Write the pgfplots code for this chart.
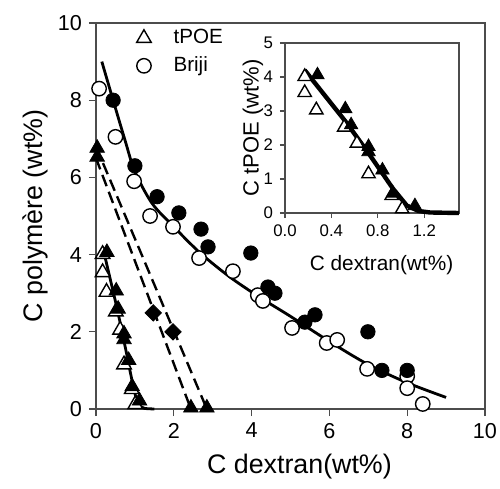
\documentclass[border=0pt]{standalone}
\usepackage{fontspec}
\setmainfont{Liberation Sans}
\usepackage{pgfplots}
\pgfplotsset{compat=1.18}

% tPOE data (shared by main plot and inset)
\pgfplotstableread{
x y
0.17 4.01
0.17 3.54
0.27 3.03
0.51 2.52
0.62 2.05
0.72 1.15
0.92 0.51
1.01 0.12
}\tpoeopen
\pgfplotstableread{
x y
0.28 4.06
0.52 3.06
0.57 2.59
0.72 1.95
0.72 1.80
0.84 1.26
0.93 0.58
1.12 0.21
}\tpoefilled
\pgfplotstableread{
x y
0.17 4.20
0.52 2.70
0.72 1.76
0.93 0.72
1.05 0.22
1.15 0.06
1.25 0.015
1.50 0.0
}\tpoecurve

\begin{document}
\begin{tikzpicture}
\useasboundingbox (-48pt,-40pt) rectangle (202pt,204.5pt);
\pgfplotsset{
  every axis/.append style={
    scale only axis, clip=false,
    axis line style={black!70, line width=0.6pt},
    tick style={black!70, line width=0.6pt},
    tick align=outside, xtick pos=bottom, ytick pos=left,
    /pgf/number format/assume math mode=true,
  },
}
\begin{axis}[
  at={(0pt,0pt)}, anchor=south west,
  width=194.5pt, height=193pt,
  xmin=0, xmax=10, ymin=0, ymax=10,
  xtick={0,2,...,10}, ytick={0,2,...,10},
  major tick length=3.5pt,
  tick label style={font=\fontsize{10.8}{12}\selectfont},
  label style={font=\fontsize{13.4}{15}\selectfont},
  xlabel={C dextran(wt\%)},
  ylabel={C polymère (wt\%)},
  xlabel style={at={(axis description cs:0.523,-0.150)}, anchor=center},
  ylabel style={at={(axis description cs:-0.157,0.5)}, anchor=center},
  legend style={draw=none, fill=none, at={(axis description cs:0.041,1.005)}, anchor=north west,
    font=\fontsize{10.3}{12}\selectfont, row sep=1pt},
  legend cell align=left,
  legend image code/.code={\path[draw=none, fill=none] (0cm,0cm) -- (0.9cm,0cm); \draw[#1] plot coordinates {(0.45cm,0cm)};},
]
% tie lines
\addplot[black, line width=1.2pt, dash pattern=on 6pt off 3pt, forget plot] coordinates {(0,6.5) (2.44,0)};
\addplot[black, line width=1.2pt, dash pattern=on 6pt off 3pt, forget plot] coordinates {(0,6.8) (2.85,0)};
% binodal curves
\addplot[black, line width=1.4pt, smooth, forget plot] table {\tpoecurve};
\addplot[black, line width=1.4pt, smooth, forget plot] coordinates {
(0.15,9.0) (0.44,8.0) (0.75,6.95) (1.0,6.15) (1.44,5.33) (2.0,4.72) (2.67,4.05)
(3.44,3.42) (4.2,2.9) (5.0,2.4) (6.0,1.75) (7.0,1.15) (8.0,0.68) (9.0,0.3)};
% tPOE markers
\addplot[only marks, mark=triangle*, mark size=4.2pt, mark options={fill=white, draw=black, line width=0.7pt}] table {\tpoeopen};
\addlegendentry{tPOE}
\addplot[only marks, mark=triangle*, mark size=4.2pt, mark options={fill=black, draw=black}, forget plot] table {\tpoefilled};
% Briji markers
\addplot[only marks, mark=*, mark size=3.6pt, mark options={fill=white, draw=black, line width=0.7pt}] coordinates {
(0.08,8.3) (0.5,7.05) (0.98,5.9) (1.39,5.0) (1.98,4.72) (2.65,3.91) (3.52,3.57)
(4.16,2.95) (4.29,2.8) (5.04,2.1) (5.93,1.71) (6.2,1.79) (6.97,1.04) (8.0,0.85)
(8.0,0.54) (8.4,0.13)};
\addlegendentry{Briji}
\addplot[only marks, mark=*, mark size=3.6pt, mark options={fill=black, draw=black}, forget plot] coordinates {
(0.44,8.0) (1.0,6.3) (1.57,5.5) (2.13,5.08) (2.7,4.66) (2.88,4.2) (3.98,4.04)
(4.42,3.16) (4.6,3.0) (5.37,2.25) (5.63,2.44) (6.99,2.0) (7.35,1.0) (8.0,1.0)};
% tie-line end points
\addplot[only marks, mark=triangle*, mark size=4.2pt, mark options={fill=black, draw=black}, forget plot] coordinates {
(0.03,6.76) (0.03,6.53) (2.44,0.03) (2.85,0.03)};
\addplot[only marks, mark=square*, mark size=2.9pt, mark options={fill=black, draw=black, rotate=45}, forget plot] coordinates {
(1.47,2.49) (1.98,2.0)};
\end{axis}

% inset
\begin{axis}[
  at={(94.5pt,98pt)}, anchor=south west,
  width=87pt, height=85pt,
  xmin=0, xmax=1.5, ymin=0, ymax=5,
  xtick={0,0.4,0.8,1.2}, xticklabels={0.0,0.4,0.8,1.2},
  ytick={0,1,...,5},
  major tick length=2.5pt,
  tick label style={font=\fontsize{8.4}{10}\selectfont},
  xlabel={C dextran(wt\%)},
  ylabel={C tPOE (wt\%)},
  xlabel style={font=\fontsize{10.4}{12}\selectfont, at={(axis description cs:0.555,-0.306)}, anchor=center},
  ylabel style={font=\fontsize{11}{12}\selectfont, at={(axis description cs:-0.184,0.5)}, anchor=center},
]
\addplot[black, line width=2.2pt] table {\tpoecurve};
\addplot[only marks, mark=triangle*, mark size=3.85pt, mark options={fill=white, draw=black, line width=0.7pt}] table {\tpoeopen};
\addplot[only marks, mark=triangle*, mark size=3.85pt, mark options={fill=black, draw=black}] table {\tpoefilled};
\end{axis}
\end{tikzpicture}
\end{document}
